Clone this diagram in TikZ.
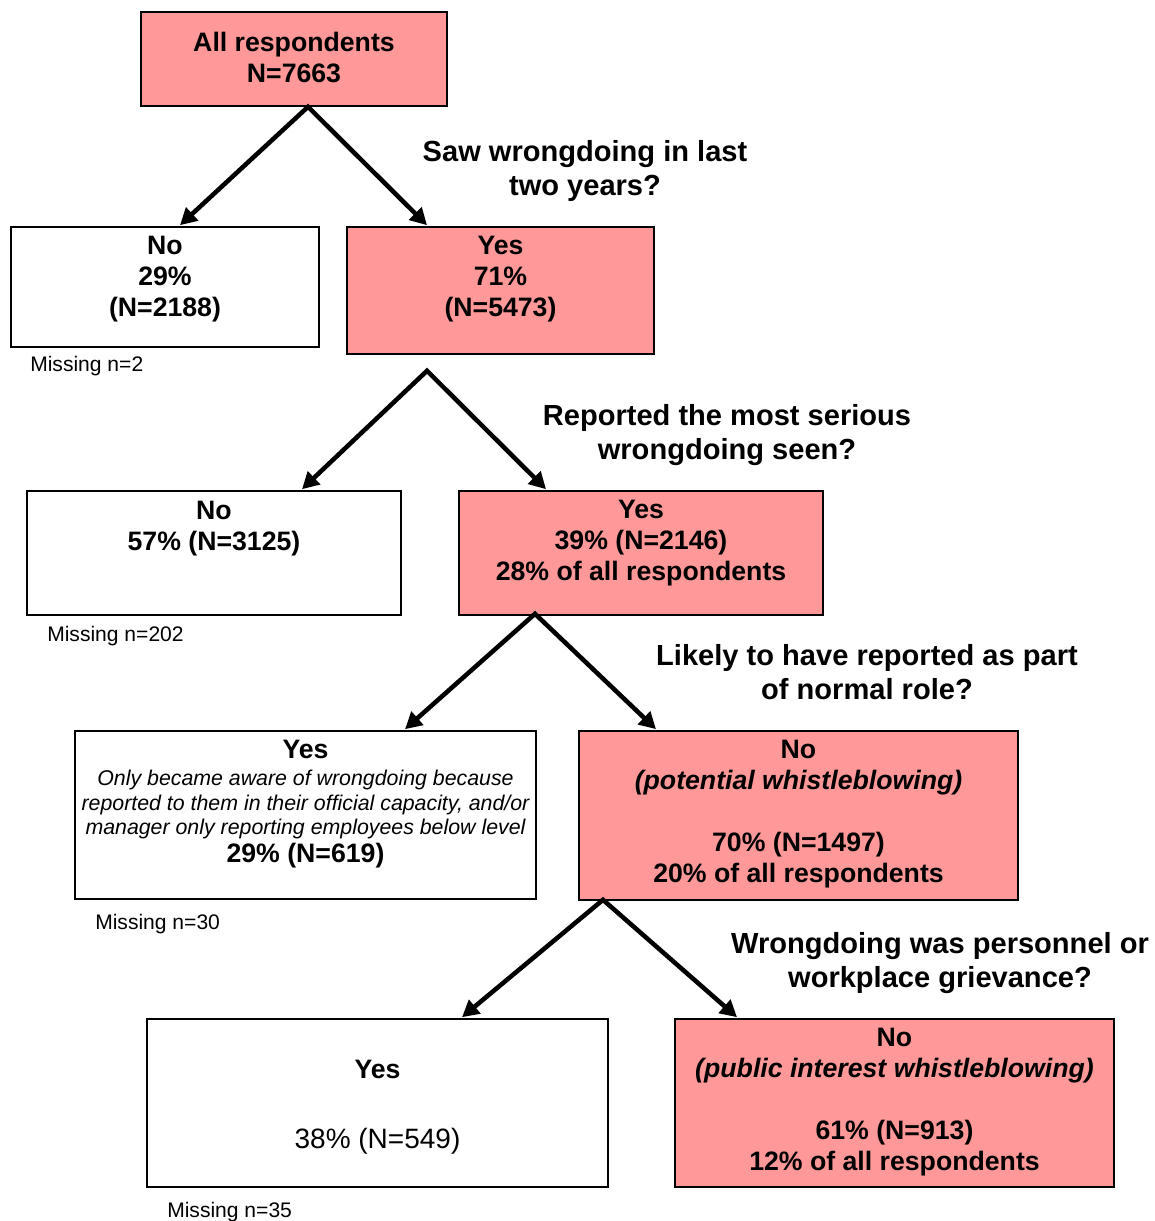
\documentclass[tikz,border=0pt]{standalone}
\usepackage{fontspec}
\setmainfont{Liberation Sans}
\usetikzlibrary{arrows.meta,calc}
\definecolor{hit}{HTML}{FF9999}
\newcommand\itsz{\mdseries\itshape\fontsize{16}{18}\selectfont}

\begin{document}
\begin{tikzpicture}[
  x=0.75pt, y=-0.75pt,
  box/.style={draw, line width=1.2pt, inner sep=0pt},
  hitbox/.style={box, fill=hit},
  sz/.style 2 args={minimum width=#1*0.75pt, minimum height=#2*0.75pt},
  txt/.style={anchor=north, align=center, inner sep=0pt,
              font=\bfseries\fontsize{20}{23}\selectfont},
  ques/.style={anchor=north, align=center, inner sep=0pt,
               font=\bfseries\fontsize{21.8}{25.5}\selectfont},
  miss/.style={anchor=west, inner sep=0pt, font=\fontsize{15.8}{18}\selectfont},
  fork/.style={line width=3.4pt, line join=miter, <->,
               >={Triangle[length=12.5pt,width=13pt]}},
]
\useasboundingbox (0,0) rectangle (1155,1221);

% boxes
\node[hitbox, sz={306}{94}]  (root) at (294,59)      {};
\node[box,    sz={308}{120}] (no1)  at (165,287)     {};
\node[hitbox, sz={307}{127}] (yes1) at (500.5,290.5) {};
\node[box,    sz={374}{124}] (no2)  at (214,553)     {};
\node[hitbox, sz={364}{124}] (yes2) at (641,553)     {};
\node[box,    sz={461}{168}] (yes3) at (305.5,815)   {};
\node[hitbox, sz={439}{169}] (no3)  at (798.5,815.5) {};
\node[box,    sz={461}{168}] (yes4) at (377.5,1103)  {};
\node[hitbox, sz={439}{168}] (no4)  at (894.5,1103)  {};

% box texts
\node[txt] (root-t) at ($(root.north)+(0,21)$) {All respondents\\N=7663};
\node[txt] (no1-t)  at ($(no1.north)+(0,10)$)  {No\\29\%\\(N=2188)};
\node[txt] (yes1-t) at ($(yes1.north)+(0,10)$) {Yes\\71\%\\(N=5473)};
\node[txt] (no2-t)  at ($(no2.north)+(0,11)$)  {No\\57\% (N=3125)};
\node[txt] (yes2-t) at ($(yes2.north)+(0,10)$) {Yes\\39\% (N=2146)\\28\% of all respondents};
\node[txt] (yes3-t) at ($(yes3.north)+(0,10)$) {Yes\\[-2.7pt]
  {\itsz Only became aware of wrongdoing because}\\[-4.6pt]
  {\itsz reported to them in their official capacity, and/or}\\[-4.6pt]
  {\itsz manager only reporting employees below level}\\[-2pt]
  29\% (N=619)};
\node[txt] (no3-t)  at ($(no3.north)+(0,10)$)  {No\\\textit{(potential whistleblowing)}\\[23.5pt]
  70\% (N=1497)\\20\% of all respondents};
\node[txt] (yes4-t) at ($(yes4.north)+(0,42)$) {Yes\\[29.5pt]
  {\mdseries\fontsize{21}{25}\selectfont 38\% (N=549)}};
\node[txt] (no4-t)  at ($(no4.north)+(0,10)$)  {No\\\textit{(public interest whistleblowing)}\\[23.5pt]
  61\% (N=913)\\12\% of all respondents};

% questions
\node[ques] (q1) at (585,140) {Saw wrongdoing in last\\two years?};
\node[ques] (q2) at (727,404) {Reported the most serious\\wrongdoing seen?};
\node[ques] (q3) at (867,644) {Likely to have reported as part\\of normal role?};
\node[ques] (q4) at (940,932) {Wrongdoing was personnel or\\workplace grievance?};

% missing counts
\node[miss] (m1) at (30,366)   {Missing n=2};
\node[miss] (m2) at (47,636)   {Missing n=202};
\node[miss] (m3) at (95,924)   {Missing n=30};
\node[miss] (m4) at (167,1212) {Missing n=35};

% forks
\coordinate (f0) at ($(root.south)+(14,0)$);
\coordinate (f1) at ($(yes1.south)+(-73.5,16)$);
\coordinate (f2) at ($(yes2.south)+(-106,-2)$);
\coordinate (f3) at ($(no3.south)+(-195.5,-1)$);
\draw[fork] ($(no1.north)+(15,-1)$) -- (f0) -- ($(yes1.north)+(-73.5,-1)$);
\draw[fork] ($(no2.north)+(88,-1)$) -- (f1) -- ($(yes2.north)+(-95,-1)$);
\draw[fork] ($(yes3.north)+(99.5,-1)$) -- (f2) -- ($(no3.north)+(-142.5,-1)$);
\draw[fork] ($(yes4.north)+(84.5,-1)$) -- (f3) -- ($(no4.north)+(-157.5,-1)$);
\end{tikzpicture}
\end{document}
